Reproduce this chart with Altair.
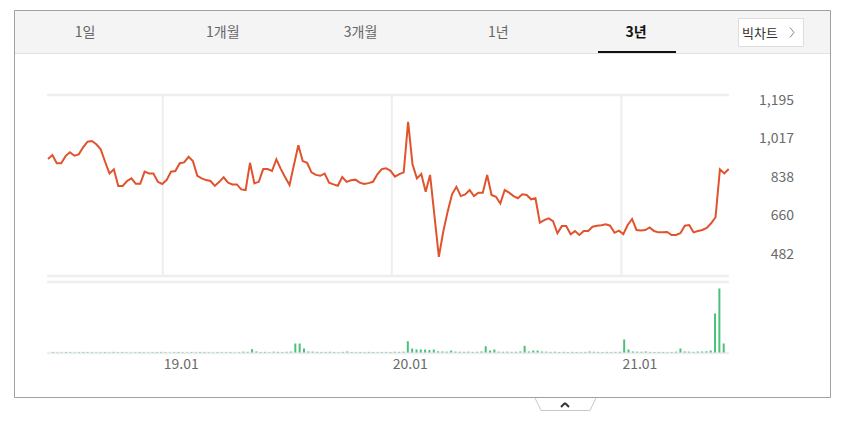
import altair as alt
import pandas as pd

# ---------------- data ----------------
start_date = "2018-07-02"  # weekly closes, 3 years
price = [919, 937, 899, 899, 932, 950, 934, 940, 973, 999,
         1002, 987, 964, 906, 852, 871, 794, 794, 817, 829,
         804, 804, 860, 852, 852, 813, 803, 821, 860, 863,
         899, 903, 929, 909, 841, 829, 821, 817, 794, 813,
         834, 809, 801, 801, 778, 775, 901, 806, 813, 872,
         872, 863, 917, 873, 834, 798, 891, 982, 909, 901,
         857, 845, 841, 851, 809, 801, 795, 835, 813, 820,
         823, 809, 803, 807, 813, 848, 872, 876, 864, 837,
         849, 857, 1091, 894, 829, 849, 767, 845, 655, 466,
         582, 675, 755, 790, 747, 755, 775, 747, 763, 763,
         845, 752, 744, 713, 775, 763, 747, 737, 755, 752,
         732, 737, 624, 636, 644, 631, 575, 608, 608, 570,
         585, 567, 585, 585, 605, 610, 612, 616, 610, 577,
         587, 571, 613, 641, 590, 588, 590, 602, 585, 579,
         579, 581, 567, 567, 575, 610, 613, 579, 585, 590,
         600, 621, 649, 871, 852, 872]
volume = [4, 3, 3, 5, 4, 3, 4, 6, 5, 4,
          3, 4, 5, 3, 6, 4, 5, 4, 3, 4,
          5, 4, 3, 4, 5, 6, 4, 3, 4, 5,
          4, 3, 5, 4, 6, 5, 4, 3, 5, 4,
          4, 5, 3, 4, 8, 6, 33, 10, 5, 6,
          4, 8, 6, 5, 7, 9, 90, 90, 40, 10,
          8, 6, 5, 6, 7, 5, 4, 6, 10, 5,
          4, 5, 4, 6, 5, 4, 5, 6, 5, 7,
          6, 8, 113, 40, 30, 30, 30, 25, 30, 12,
          10, 8, 20, 9, 7, 6, 8, 6, 7, 10,
          63, 20, 30, 8, 7, 8, 6, 7, 9, 67,
          10, 20, 20, 10, 8, 6, 7, 5, 6, 5,
          6, 5, 4, 6, 10, 7, 6, 5, 6, 5,
          6, 7, 130, 30, 10, 8, 7, 10, 6, 5,
          6, 5, 4, 5, 8, 40, 10, 8, 6, 9,
          10, 12, 20, 390, 640, 90]
tick_dates = ["2019-01-01", "2020-01-01", "2021-01-01"]
tick_labels = ["19.01", "20.01", "21.01"]
price_ticks = [482, 660, 838, 1017, 1195]
price_tick_labels = ["482", "660", "838", "1,017", "1,195"]
tabs = ["1일", "1개월", "3개월", "1년", "3년"]
selected_tab = "3년"
button_label = "빅차트"

# ---------------- tables ----------------
dates = pd.date_range(start_date, periods=len(price), freq="7D")
df = pd.DataFrame({"date": dates.strftime("%Y-%m-%dT00:00:00Z"),
                   "price": price, "volume": volume})
ticks_df = pd.DataFrame({"date": [d + "T00:00:00Z" for d in tick_dates],
                         "label": tick_labels})
ptick_df = pd.DataFrame({"v": price_ticks, "label": price_tick_labels})
tabs_df = pd.DataFrame({"tab": tabs})
one = pd.DataFrame({"k": [0]})

t0 = int(dates[0].value // 10**6)
t1 = int(dates[-1].value // 10**6)

FONT = "Noto Sans CJK KR"
GRID = "#eeeeee"
LABEL = "#6a6a6a"


def xt():
    return alt.X("date:T", axis=None,
                 scale=alt.Scale(type="time", domain=[t0, t1], range=[40, 720.7], nice=False))


def yp(field):
    return alt.Y(field, axis=None,
                 scale=alt.Scale(domain=[377, 1215], range=[268, 87], nice=False, zero=False))


ys_v = alt.Scale(domain=[0, 700], range=[344.5, 274.5], nice=False)

deco = alt.Chart(one)

layers = [
    # frame
    deco.mark_rect(fill="white", stroke="#a0a0a0", strokeWidth=1).encode(
        x=alt.value(6.5), x2=alt.value(822.5), y=alt.value(2.5), y2=alt.value(389.5)),
    # header band
    deco.mark_rect(fill="#f4f4f4").encode(
        x=alt.value(7), x2=alt.value(822), y=alt.value(3), y2=alt.value(45)),
    deco.mark_rule(color="#e2e2e2", strokeWidth=1).encode(
        x=alt.value(7), x2=alt.value(822), y=alt.value(45.5)),
    # tabs
    alt.Chart(tabs_df).transform_filter(alt.datum.tab != selected_tab).mark_text(
        font=FONT, fontSize=14, color="#666666", dy=1).encode(
        x=alt.X("tab:N", axis=None,
                scale=alt.Scale(type="point", domain=tabs, range=[77, 628], padding=0)),
        y=alt.value(24), text="tab:N"),
    alt.Chart(tabs_df).transform_filter(alt.datum.tab == selected_tab).mark_text(
        font=FONT, fontSize=14, fontWeight="bold", color="#111111", dy=1).encode(
        x=alt.X("tab:N", axis=None,
                scale=alt.Scale(type="point", domain=tabs, range=[77, 628], padding=0)),
        y=alt.value(24), text="tab:N"),
    deco.mark_rule(color="#111111", strokeWidth=2).encode(
        x=alt.value(590), x2=alt.value(668), y=alt.value(44)),
    # big chart button
    deco.mark_rect(fill="white", stroke="#dddddd", strokeWidth=1).encode(
        x=alt.value(730.5), x2=alt.value(795.5), y=alt.value(10.5), y2=alt.value(38.5)),
    deco.mark_text(font=FONT, fontSize=13, color="#333333", text=button_label, dy=1).encode(
        x=alt.value(752), y=alt.value(24.5)),
    deco.mark_rule(color="#888888", strokeWidth=1).encode(
        x=alt.value(782), y=alt.value(19.5), x2=alt.value(786), y2=alt.value(24.5)),
    deco.mark_rule(color="#888888", strokeWidth=1).encode(
        x=alt.value(786), y=alt.value(24.5), x2=alt.value(782), y2=alt.value(29.5)),
    # price panel frame lines
    deco.mark_rule(color=GRID, strokeWidth=2.5).encode(
        x=alt.value(39), x2=alt.value(721), y=alt.value(87)),
    deco.mark_rule(color=GRID, strokeWidth=2.5).encode(
        x=alt.value(39), x2=alt.value(721), y=alt.value(268)),
    # vertical year gridlines
    alt.Chart(ticks_df).mark_rule(color=GRID, strokeWidth=2).encode(
        x=xt(), y=alt.value(87), y2=alt.value(268)),
    # price line
    alt.Chart(df).mark_line(color="#e0532c", strokeWidth=2).encode(
        x=xt(), y=yp("price:Q")),
    # price labels
    alt.Chart(ptick_df).mark_text(font=FONT, fontSize=14, color=LABEL, align="right", dy=1.5).encode(
        x=alt.value(786), y=yp("v:Q"), text="label:N"),
    # volume panel lines
    deco.mark_rule(color=GRID, strokeWidth=2.5).encode(
        x=alt.value(39), x2=alt.value(721), y=alt.value(274)),
    deco.mark_rule(color=GRID, strokeWidth=2.5).encode(
        x=alt.value(39), x2=alt.value(721), y=alt.value(345)),
    # volume bars
    alt.Chart(df).mark_bar(size=2, color="#4cc07a").encode(
        x=xt(), y=alt.Y("volume:Q", axis=None, scale=ys_v)),
    # x labels
    alt.Chart(ticks_df).mark_text(font=FONT, fontSize=14, color=LABEL, align="left", dx=1, dy=1).encode(
        x=xt(), y=alt.value(356), text="label:N"),
    # bottom toggle tab
    deco.mark_rule(color="#c8c8c8", strokeWidth=1).encode(
        x=alt.value(527), y=alt.value(390), x2=alt.value(533), y2=alt.value(402.5)),
    deco.mark_rule(color="#c8c8c8", strokeWidth=1).encode(
        x=alt.value(533), y=alt.value(402.5), x2=alt.value(582), y2=alt.value(402.5)),
    deco.mark_rule(color="#c8c8c8", strokeWidth=1).encode(
        x=alt.value(582), y=alt.value(402.5), x2=alt.value(588), y2=alt.value(390)),
    deco.mark_rule(color="#333333", strokeWidth=2).encode(
        x=alt.value(553), y=alt.value(399), x2=alt.value(557), y2=alt.value(395)),
    deco.mark_rule(color="#333333", strokeWidth=2).encode(
        x=alt.value(557), y=alt.value(395), x2=alt.value(561), y2=alt.value(399)),
]

chart = alt.layer(*layers).resolve_scale(
    x="independent", y="independent"
).properties(
    width=828, height=406, padding=0,
    autosize=alt.AutoSizeParams(type="none"),
    background="white",
).configure_view(strokeWidth=0)

chart.save("out.html", embed_options={"renderer": "svg", "actions": False})
